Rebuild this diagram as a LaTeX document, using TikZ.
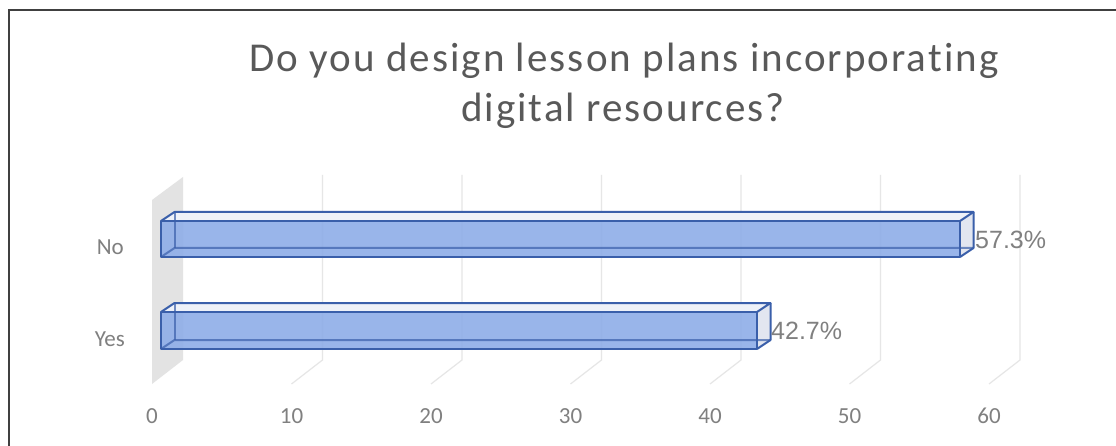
\documentclass[tikz,border=0pt]{standalone}
\usepackage{fontspec}
\setmainfont{Carlito}
\newfontfamily\arialfont{Liberation Sans}
\newfontfamily\titlefont[LetterSpace=5,Ligatures={NoCommon,NoRare,NoContextual}]{Carlito}
\usetikzlibrary{calc}

\definecolor{titlegray}{HTML}{595959}
\definecolor{axisgray}{HTML}{808080}
\definecolor{gridgray}{HTML}{E6E6E6}
\definecolor{wallgray}{HTML}{E3E3E3}
\definecolor{barblue}{HTML}{8EADE8}
\definecolor{baredge}{HTML}{3A5FAA}
\definecolor{bartop}{HTML}{EEF1F8}
\definecolor{barend}{HTML}{E2E6F0}

\begin{document}
\begin{tikzpicture}[
    x = 1pt,
    y = -1pt,
    grid/.style = {
      draw = gridgray,
      line width = 1.2pt
    },
    tick/.style = {
      text = axisgray,
      font = \fontsize{23}{28}\selectfont,
      anchor = base,
      inner sep = 0pt
    },
    value/.style = {
      text = axisgray,
      font = \arialfont\fontsize{25}{30}\selectfont,
      anchor = west,
      inner sep = 0pt
    },
    facet/.style = {
      draw = baredge,
      line width = 2pt,
      line join = round
    },
    heading/.style = {
      anchor = base,
      text = titlegray,
      font = \titlefont\fontsize{41}{50}\selectfont
    }
  ]
  \useasboundingbox (0,0) rectangle (1116,446);
  \fill[white] (0,0) rectangle (1116,446);

  % frame
  \draw[line width=2.2pt, draw=black!75] (9,446) -- (9,10) -- (1116,10);

  % title
  \node[heading] (title1) at (624,72) {Do you design lesson plans incorporating};
  \node[heading] (title2) at (623,122) {digital resources?};

  % side wall
  \path[fill=wallgray] (152,384) -- (152,200) -- (183,177) -- (183,360) -- cycle;

  % grid lines
  \draw[grid] (291.5,384) -- (322.5,360) -- (322.5,175);
  \draw[grid] (431,384) -- (462,360) -- (462,175);
  \draw[grid] (570.5,384) -- (601.5,360) -- (601.5,175);
  \draw[grid] (710,384) -- (741,360) -- (741,175);
  \draw[grid] (849.5,384) -- (880.5,360) -- (880.5,175);
  \draw[grid] (989,384) -- (1020,360) -- (1020,175);

  % bar: No (57.3)
  \coordinate (noA) at (161,221);
  \coordinate (noB) at (960,257);
  \coordinate (d) at (13.5,-9);
  \path[fill=bartop] (noA) -- ($(noA)+(d)$) -- ($(noB|-noA)+(d)$) -- (noB|-noA) -- cycle;
  \path[fill=barend] (noB|-noA) -- ($(noB|-noA)+(d)$) -- ($(noB)+(d)$) -- (noB) -- cycle;
  \path[fill=barblue, fill opacity=0.9] (noA) rectangle (noB);
  \draw[facet, draw opacity=0.7] (noA|-noB) -- ($(noA|-noB)+(d)$) -- ($(noB)+(d)$);
  \draw[facet, draw opacity=0.7] ($(noA)+(d)$) -- ($(noA|-noB)+(d)$);
  \draw[facet] (noA) rectangle (noB);
  \draw[facet] (noA) -- ($(noA)+(d)$) -- ($(noB|-noA)+(d)$) -- (noB|-noA);
  \draw[facet] ($(noB|-noA)+(d)$) -- ($(noB)+(d)$) -- (noB);

  % bar: Yes (42.7)
  \coordinate (yesA) at (161,312);
  \coordinate (yesB) at (757,349);
  \path[fill=bartop] (yesA) -- ($(yesA)+(d)$) -- ($(yesB|-yesA)+(d)$) -- (yesB|-yesA) -- cycle;
  \path[fill=barend] (yesB|-yesA) -- ($(yesB|-yesA)+(d)$) -- ($(yesB)+(d)$) -- (yesB) -- cycle;
  \path[fill=barblue, fill opacity=0.9] (yesA) rectangle (yesB);
  \draw[facet, draw opacity=0.7] (yesA|-yesB) -- ($(yesA|-yesB)+(d)$) -- ($(yesB)+(d)$);
  \draw[facet, draw opacity=0.7] ($(yesA)+(d)$) -- ($(yesA|-yesB)+(d)$);
  \draw[facet] (yesA) rectangle (yesB);
  \draw[facet] (yesA) -- ($(yesA)+(d)$) -- ($(yesB|-yesA)+(d)$) -- (yesB|-yesA);
  \draw[facet] ($(yesB|-yesA)+(d)$) -- ($(yesB)+(d)$) -- (yesB);

  % values
  \node[value] (noval) at (975,240) {57.3\%};
  \node[value] (yesval) at (771,331) {42.7\%};

  % categories
  \node[tick, anchor=base east] (nolab) at (124,255) {No};
  \node[tick, anchor=base east] (yeslab) at (125,346) {Yes};

  % axis
  \node[tick] (t0) at (152,423) {0};
  \node[tick] (t10) at (291.5,423) {10};
  \node[tick] (t20) at (431,423) {20};
  \node[tick] (t30) at (570.5,423) {30};
  \node[tick] (t40) at (710,423) {40};
  \node[tick] (t50) at (849.5,423) {50};
  \node[tick] (t60) at (989,423) {60};

\end{tikzpicture}
\end{document}
